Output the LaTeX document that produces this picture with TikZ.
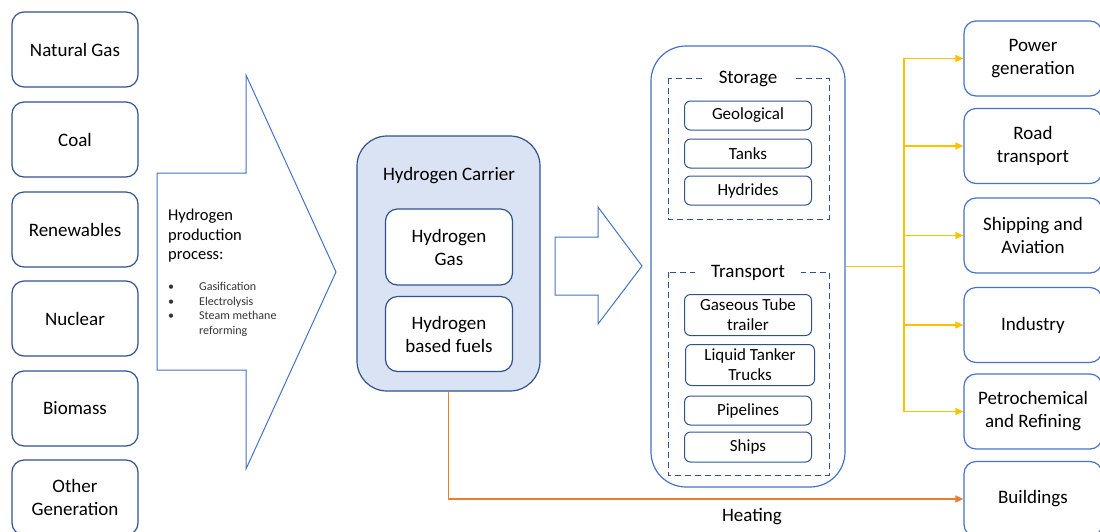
\documentclass[tikz,border=0pt]{standalone}
\usepackage{fontspec}
\setmainfont{Carlito}
\usetikzlibrary{arrows.meta}

\definecolor{boxblue}{HTML}{2F528F}
\definecolor{lineblue}{HTML}{4472C4}
\definecolor{carrierfill}{HTML}{DAE3F3}
\definecolor{useyellow}{HTML}{FFC000}
\definecolor{heatorange}{HTML}{ED7D31}

\tikzset{
    source/.style={draw=boxblue, line width=1.2pt, rounded corners=12pt,
        minimum width=126pt, minimum height=75pt, align=center,
        font=\fontsize{19}{23}\selectfont},
    enduse/.style={source, draw=lineblue, minimum width=138pt},
    item/.style={draw=boxblue, line width=1pt, rounded corners=6pt,
        minimum width=127pt, align=center, inner sep=1pt,
        font=\fontsize{17}{20}\selectfont},
    group/.style={draw=boxblue, line width=1pt, dash pattern=on 6pt off 4pt},
    grouptitle/.style={fill=white, inner xsep=16pt, inner ysep=3pt,
        font=\fontsize{19}{23}\selectfont},
    fork/.style={useyellow, line width=1.5pt, -{Triangle[length=8pt,width=7pt]}},
    heat/.style={heatorange, line width=1.5pt, -{Triangle[length=8pt,width=7pt]}}
}

\begin{document}
\begin{tikzpicture}[x=1pt, y=-1pt]

    % page frame
    \useasboundingbox (0,0) rectangle (1100,531);

    % Sources, one column on the left
    \node[source] (gas) at (75,49.5) {Natural Gas};
    \node[source] (coal) at (75,139.5) {Coal};
    \node[source] (renew) at (75,229.5) {Renewables};
    \node[source] (nuclear) at (75,318.5) {Nuclear};
    \node[source] (biomass) at (75,408.5) {Biomass};
    \node[source] (other) at (75,497.5) {Other\\Generation};

    % Production arrow
    \draw[lineblue, line width=1pt] (157,173) -- (246,173) -- (246,75) -- (336,272)
        -- (246,469) -- (246,370) -- (157,370) -- cycle;
    \node[anchor=west, align=left, inner sep=0pt,
        font=\fontsize{16.5}{19.5}\selectfont] (process) at (168,236)
        {Hydrogen\\production\\process:};
    \node[anchor=north west, inner sep=0pt, text=black!80,
        font=\fontsize{12}{14.7}\selectfont] (methods) at (168,280)
        {\begin{tabular}{@{}p{31pt}@{}l@{}}
            \textbullet & Gasification\\
            \textbullet & Electrolysis\\
            \textbullet & Steam methane\\
                        & reforming
        \end{tabular}};

    % Hydrogen carrier
    \node[draw=boxblue, line width=1.2pt, fill=carrierfill, rounded corners=30pt,
        minimum width=183pt, minimum height=255pt] (carrier) at (448.5,263.5) {};
    \node[font=\fontsize{19}{23}\selectfont] (carriertitle) at (449,176) {Hydrogen Carrier};
    \node[source, fill=white, minimum width=127pt, minimum height=76pt]
        (h2gas) at (449,247) {Hydrogen\\Gas};
    \node[source, fill=white, minimum width=127pt, minimum height=75pt]
        (h2fuels) at (449,334) {Hydrogen\\based fuels};

    % Delivery arrow
    \draw[lineblue, line width=1pt] (555,237) -- (598,237) -- (598,207) -- (642,266)
        -- (598,324) -- (598,295) -- (555,295) -- cycle;

    % Storage and transport
    \node[draw=lineblue, line width=1.2pt, rounded corners=35pt,
        minimum width=194pt, minimum height=441pt] (chain) at (748,266.5) {};

    \draw[group] (668,78) rectangle (829,219);
    \node[grouptitle] (storage) at (748,79) {Storage};
    \node[item, minimum height=29pt] (geo) at (748,115.5) {Geological};
    \node[item, minimum height=29pt] (tanks) at (748,153.5) {Tanks};
    \node[item, minimum height=29pt] (hydrides) at (748,190.5) {Hydrides};

    \draw[group] (668,272) rectangle (829,475);
    \node[grouptitle] (transport) at (748,273) {Transport};
    \node[item, minimum height=41pt] (tube) at (748,315) {Gaseous Tube\\trailer};
    \node[item, minimum width=129pt, minimum height=41pt] (tanker) at (750,365)
        {Liquid Tanker\\Trucks};
    \node[item, minimum height=29pt] (pipes) at (748,410.5) {Pipelines};
    \node[item, minimum height=30pt] (ships) at (748,447) {Ships};

    % End uses on the right
    \node[enduse] (power) at (1033,58.5) {Power\\generation};
    \node[enduse] (road) at (1033,146) {Road\\transport};
    \node[enduse] (shipping) at (1033,235.5) {Shipping and\\Aviation};
    \node[enduse] (industry) at (1033,325) {Industry};
    \node[enduse] (petro) at (1033,411.5) {Petrochemical\\and Refining};
    \node[enduse] (buildings) at (1033,499) {Buildings};

    % Yellow fork to the end uses
    \coordinate (split) at (904,266.5);
    \draw[useyellow, line width=1.5pt] (chain.east) -- (split);
    \draw[fork] (split) |- (power.west);
    \draw[fork] (split) |- (road.west);
    \draw[fork] (split) |- (shipping.west);
    \draw[fork] (split) |- (industry.west);
    \draw[fork] (split) |- (petro.west);

    % Heating line
    \draw[heat] (carrier.south) |- (buildings.west);
    \node[font=\fontsize{19}{23}\selectfont] (heating) at (752,517) {Heating};

\end{tikzpicture}
\end{document}
